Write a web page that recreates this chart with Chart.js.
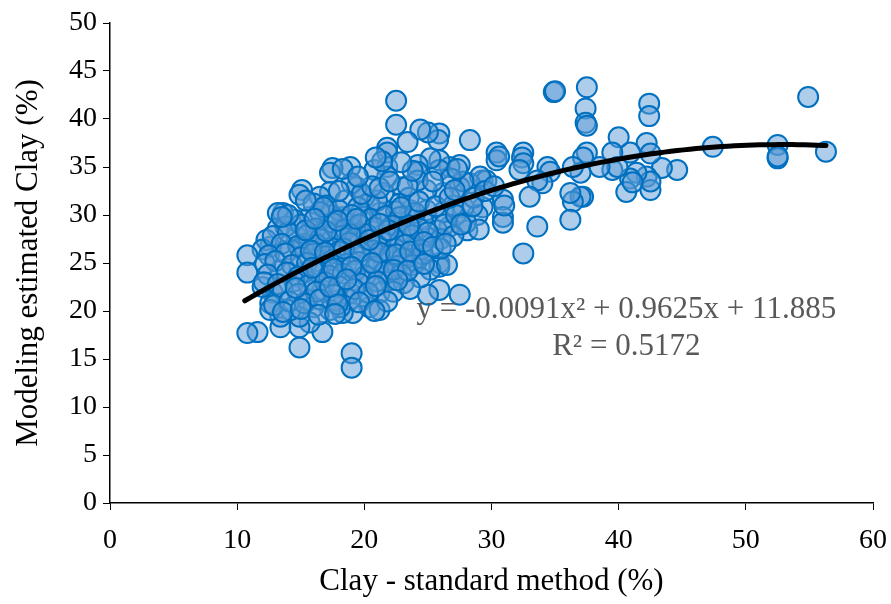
<!DOCTYPE html>
<html>
<head>
<meta charset="utf-8">
<script src="https://cdn.jsdelivr.net/npm/chart.js@4"></script>
<style>
  html, body { margin: 0; padding: 0; background: #fff; }
  #wrap { width: 891px; height: 604px; }
</style>
</head>
<body>
<div id="wrap"><canvas id="chart"></canvas></div>
<script>
// Measured points: [clay standard method, modeled clay]
var points = [
  [54.9,42.3],[56.3,36.6],[52.5,37.3],[52.5,35.9],[52.5,36.1],[47.4,37.1],[44.6,34.7],[43.4,34.9],
  [42.4,41.6],[42.4,40.3],[42.2,37.5],[42.5,36.4],[42.2,34.0],[42.5,32.6],[42.5,33.5],[41.4,34.4],
  [40.9,36.5],[40.9,33.8],[40.6,32.4],[41.1,33.4],[40.0,38.1],[39.5,36.5],[39.5,34.7],[39.9,35.0],
  [38.5,35.0],[37.5,43.3],[37.4,41.1],[37.4,39.6],[37.5,39.3],[37.5,36.5],[37.2,36.0],[37.0,34.4],
  [37.2,31.9],[37.0,31.9],[36.4,31.4],[36.2,32.3],[36.2,29.5],[36.4,35.0],[34.9,42.8],[35.0,42.9],
  [34.4,35.0],[34.6,34.5],[34.0,33.3],[33.6,33.6],[33.6,28.8],[33.0,31.9],[32.5,26.0],[32.5,36.5],
  [32.4,36.0],[32.5,35.4],[32.2,34.7],[30.9,31.6],[30.9,29.8],[30.9,29.2],[30.4,36.5],[30.4,35.7],
  [30.6,36.1],[29.3,33.6],[29.6,33.6],[29.3,30.8],[28.3,37.8],[28.3,33.3],[29.1,34.0],[28.9,30.0],
  [27.8,30.8],[28.1,28.4],[27.5,35.2],[27.5,32.9],[27.5,21.7],[26.7,35.0],[26.7,28.8],[26.2,32.3],
  [26.2,30.3],[25.9,38.5],[25.8,37.8],[25.9,35.7],[25.9,34.7],[25.9,22.2],[25.9,25.0],[25.9,24.6],
  [25.7,28.4],[25.2,35.9],[25.2,24.3],[25.0,38.6],[25.0,21.7],[24.9,32.6],[24.9,30.5],[24.9,27.7],
  [24.4,38.9],[24.6,29.5],[24.2,35.2],[24.2,34.5],[24.2,33.6],[24.1,25.1],[23.8,26.7],[23.6,29.5],
  [23.6,30.5],[23.4,37.6],[23.3,25.5],[23.0,32.9],[22.8,31.2],[22.6,28.8],[22.5,41.9],[22.5,39.4],
  [22.0,27.7],[22.0,23.2],[21.8,37.0],[21.8,36.5],[21.8,35.0],[21.8,34.0],[21.5,32.3],[21.5,26.0],
  [21.5,25.0],[21.2,30.2],[21.2,21.9],[20.8,34.7],[20.4,31.2],[20.4,25.3],[20.4,23.5],[20.4,20.4],
  [21.2,20.1],[20.0,31.9],[19.9,29.8],[19.9,21.5],[19.1,28.1],[19.1,19.8],[19.4,32.9],[18.9,35.0],
  [19.0,33.3],[19.0,15.6],[19.0,14.1],[18.9,28.8],[18.9,21.9],[18.9,21.2],[18.3,29.8],[18.3,19.8],
  [18.1,20.4],[17.8,28.4],[17.8,24.0],[17.8,21.1],[17.5,34.9],[17.3,34.4],[17.3,32.4],[17.3,30.0],
  [17.3,20.1],[17.1,27.7],[16.7,22.2],[16.7,17.8],[16.5,31.9],[16.0,27.4],[16.0,23.2],[16.0,20.4],
  [15.7,29.8],[15.7,18.8],[15.5,21.1],[15.2,26.7],[15.2,24.0],[15.1,32.6],[14.9,32.1],[14.9,16.2],
  [14.9,18.3],[14.9,19.4],[14.7,27.7],[14.2,26.4],[14.2,20.1],[13.6,30.2],[13.2,30.2],[13.4,24.3],
  [13.4,18.3],[13.4,19.4],[13.2,28.6],[12.8,21.9],[12.6,26.7],[12.6,20.8],[12.6,20.1],[12.3,27.4],
  [12.0,26.4],[12.0,22.5],[11.6,17.8],[10.8,25.8],[10.8,24.0],[10.8,17.7],
  [26.0,27.5],[26.3,29.0],[27.0,31.0],[27.2,30.0],[27.8,33.5],[28.6,31.8],[29.5,32.5],[28.0,29.2],
  [27.0,27.8],[26.5,24.8],[26.8,33.8],[29.0,28.5],[26.0,26.5],[27.3,34.8],[30.2,33.0],[31.0,31.0],
  [17.0,31.0],[18.5,31.5],[16.0,31.2],[19.5,30.8],[21.0,31.5],[22.5,30.4],[23.5,31.8],
  [14.5,29.5],[16.5,30.3],[18.0,30.5],[19.0,30.0],[20.5,29.6],[21.7,29.9],[22.8,29.8],[24.0,30.2],
  [13.8,28.8],[15.0,29.0],[16.2,28.6],[17.5,29.2],[18.5,28.5],[19.6,29.0],[20.8,28.7],[22.2,28.9],
  [23.2,28.3],[24.3,28.6],
  [12.8,27.8],[14.0,28.2],[15.5,27.9],[16.5,27.5],[18.2,27.8],[19.3,27.6],[20.2,28.0],[21.3,27.5],
  [22.8,27.3],[23.8,27.9],[25.0,28.2],
  [13.5,27.0],[14.8,26.8],[16.3,26.9],[17.4,26.6],[18.8,27.1],[19.9,26.7],[21.0,26.9],[22.4,26.5],
  [23.2,26.9],[24.5,26.4],
  [12.5,25.8],[13.8,26.0],[15.0,25.6],[16.0,26.0],[17.0,25.7],[18.0,26.2],[19.2,25.9],[20.7,26.3],
  [22.0,25.8],[23.0,25.5],[24.6,25.9],
  [12.2,24.9],[13.0,25.2],[14.3,24.8],[15.5,25.0],[16.6,24.7],[17.5,25.3],[18.6,24.9],[19.6,25.1],
  [20.9,24.6],[22.6,24.7],[23.8,24.8],
  [12.4,23.8],[13.9,24.0],[14.8,23.6],[16.3,24.1],[17.2,23.7],[18.3,23.9],[19.3,24.2],[20.1,23.7],
  [21.6,24.1],[22.9,23.8],[24.4,23.5],
  [12.1,23.0],[13.2,22.8],[14.5,23.1],[15.6,22.7],[16.9,23.0],[18.0,22.6],[19.6,22.9],[21.0,23.1],
  [23.1,22.9],
  [13.6,22.2],[14.8,21.8],[16.2,22.0],[17.6,21.7],[19.2,22.3],[20.3,21.9],[22.3,22.0],[23.6,22.3],
  [12.9,20.6],[14.1,21.0],[15.3,20.8],[16.5,21.2],[17.9,20.7],[19.6,20.9],[21.8,21.0],
  [13.6,19.9],[15.0,20.2],[16.4,19.6],[17.7,19.7],[20.8,20.0],
  [14.0,30.0],[13.5,29.8],[15.4,31.5],[16.8,30.8],[18.0,32.5],[19.8,32.2],[20.6,33.0],[21.2,32.8],
  [22.0,33.5],[23.4,33.0],[23.8,34.6],[22.9,35.5],
  [18.3,34.8],[19.5,34.0],[21.4,35.6],[20.9,36.0],
  [15.8,26.3],[16.9,26.1],[18.4,26.5],[19.7,26.2],[21.2,26.1],[22.5,25.9],[23.6,26.2],
  [15.4,28.4],[17.0,28.3],[18.9,28.0],[20.4,27.4],[21.9,28.4],[23.5,28.9],[24.7,27.2],
  [16.1,29.6],[17.9,29.4],[19.4,29.6],[21.2,29.1],[22.9,30.8],[24.3,31.4],[25.6,30.9],
  [15.9,24.5],[17.6,24.4],[19.0,24.6],[20.6,25.0],[22.3,24.3],[23.4,24.2],[25.4,26.7],
  [14.6,22.4],[17.3,22.5],[18.6,23.3],[20.9,22.6],[22.6,23.2],[24.7,24.9],[26.4,27.0],
  [27.6,29.0],[28.5,30.9],[26.7,31.8],[25.4,33.5],[27.1,32.6]
];

// Polynomial trendline shown on the chart: y = a x^2 + b x + c
var trendCoef = [-0.0091, 0.9625, 11.885];
var trendRange = [10.6, 56.3];
var equationLines = ['y = -0.0091x\u00B2 + 0.9625x + 11.885', 'R\u00B2 = 0.5172'];

var xTicks = [0, 10, 20, 30, 40, 50, 60];
var yTicks = [0, 5, 10, 15, 20, 25, 30, 35, 40, 45, 50];

var scatterData = points.map(function(p) { return { x: p[0], y: p[1] }; });

var trendData = [];
for (var x = trendRange[0]; x < trendRange[1]; x += 0.5) {
  trendData.push({ x: x, y: trendCoef[0] * x * x + trendCoef[1] * x + trendCoef[2] });
}
trendData.push({ x: trendRange[1], y: trendCoef[0] * trendRange[1] * trendRange[1] + trendCoef[1] * trendRange[1] + trendCoef[2] });

var serif = "'Liberation Serif', 'Times New Roman', serif";

// Draws the regression equation like the Excel trendline label
var equationLabel = {
  id: 'equationLabel',
  afterDatasetsDraw: function(chart) {
    var ctx = chart.ctx;
    var xs = chart.scales.x, ys = chart.scales.y;
    ctx.save();
    ctx.fillStyle = '#595959';
    ctx.font = '31px ' + serif;
    ctx.textAlign = 'center';
    ctx.textBaseline = 'alphabetic';
    var cx = xs.getPixelForValue(40.6);
    ctx.fillText(equationLines[0], cx, ys.getPixelForValue(19.3));
    ctx.fillText(equationLines[1], cx, ys.getPixelForValue(15.4));
    ctx.restore();
  }
};

var ctx = document.getElementById('chart').getContext('2d');
new Chart(ctx, {
  type: 'scatter',
  data: {
    datasets: [{
      label: 'Trend',
      type: 'line',
      data: trendData,
      borderColor: '#000000',
      borderWidth: 5,
      borderCapStyle: 'round',
      pointRadius: 0,
      fill: false,
      tension: 0,
      order: 0
    }, {
      label: 'Clay',
      data: scatterData,
      pointRadius: 10,
      pointHoverRadius: 10,
      pointBorderWidth: 2,
      pointBackgroundColor: 'rgba(91, 155, 213, 0.5)',
      pointBorderColor: '#0070C0',
      order: 1
    }]
  },
  options: {
    responsive: true,
    maintainAspectRatio: false,
    animation: false,
    layout: { padding: { top: 23, right: 18, left: 0, bottom: 0 } },
    plugins: {
      legend: { display: false },
      tooltip: { enabled: false }
    },
    scales: {
      x: {
        type: 'linear',
        min: 0,
        max: 60,
        afterBuildTicks: function(axis) { axis.ticks = xTicks.map(function(v) { return { value: v }; }); },
        afterFit: function(axis) {
          axis.height = 101;
          axis.paddingRight = 18;
          axis.paddingLeft = 10;
        },
        grid: { drawOnChartArea: false, drawTicks: true, tickLength: 7, color: '#000', lineWidth: 1 },
        border: { display: true, color: '#000', width: 1.5 },
        ticks: { color: '#000', font: { family: serif, size: 28 }, padding: 14, maxRotation: 0 },
        title: {
          display: true,
          text: 'Clay - standard method (%)',
          color: '#000',
          font: { family: serif, size: 31 },
          padding: { top: 0, bottom: 4 }
        }
      },
      y: {
        type: 'linear',
        min: 0,
        max: 50,
        afterBuildTicks: function(axis) { axis.ticks = yTicks.map(function(v) { return { value: v }; }); },
        afterFit: function(axis) { axis.width = 110; },
        grid: { drawOnChartArea: false, drawTicks: true, tickLength: 7, color: '#000', lineWidth: 1 },
        border: { display: true, color: '#000', width: 1.5 },
        ticks: { color: '#000', font: { family: serif, size: 28 }, padding: 6 },
        title: {
          display: true,
          text: 'Modeling estimated Clay (%)',
          color: '#000',
          font: { family: serif, size: 31 },
          padding: { top: 10, bottom: 0 }
        }
      }
    }
  },
  plugins: [equationLabel]
});
</script>
</body>
</html>
